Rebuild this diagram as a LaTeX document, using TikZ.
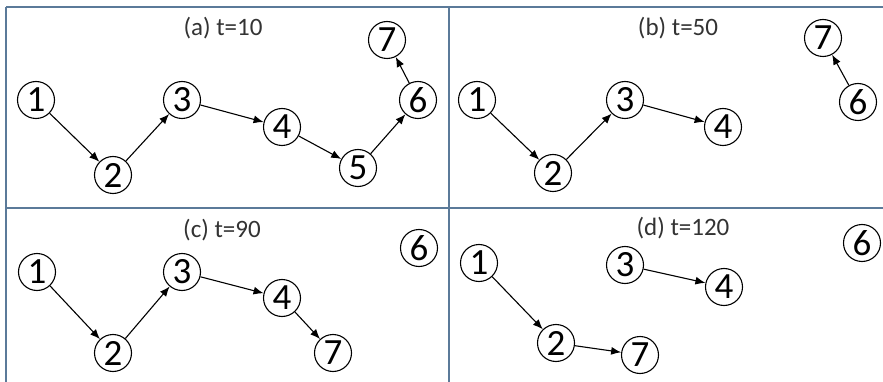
\documentclass[tikz,border=0pt]{standalone}
\usepackage{fontspec}
\setmainfont{Carlito}
\usetikzlibrary{positioning,arrows.meta}
\definecolor{gridblue}{HTML}{5B7A99}
\definecolor{titlegray}{HTML}{333333}

\begin{document}
\begin{tikzpicture}[
  x=1pt, y=-1pt,
  vtx/.style={circle, draw=black, line width=1.1pt, minimum size=37pt,
              inner sep=0pt, font=\fontsize{37}{37}\selectfont},
  caption/.style={text=titlegray, font=\fontsize{25}{25}\selectfont},
  link/.style={line width=1.1pt, -{Latex[length=10pt,width=8pt]}},
  frame/.style={gridblue, line width=1.8pt},
]
\useasboundingbox (0,0) rectangle (883,382);
\fill[white] (0,0) rectangle (883,382);

% panel frame
\coordinate (tl) at (6,7);
\coordinate (tr) at (883,7);
\coordinate (bl) at (6,382);
\coordinate (mt) at (449,7);
\coordinate (mb) at (449,382);
\coordinate (ml) at (6,208);
\coordinate (mr) at (883,208);
\draw[frame] (tl) -- (tr);
\draw[frame] (tl) -- (bl);
\draw[frame] (mt) -- (mb);
\draw[frame] (ml) -- (mr);

% (a) t=10
\node[caption] (capa) at (223,28) {(a) t=10};
\node[vtx] (a1) at (36,100) {1};
\node[vtx] (a2) at (113,175) {2};
\node[vtx] (a3) at (182,100) {3};
\node[vtx] (a4) at (282,127) {4};
\node[vtx] (a5) at (358,168) {5};
\node[vtx] (a6) at (418,100) {6};
\node[vtx] (a7) at (387,40) {7};
\draw[link] (a1) -- (a2);
\draw[link] (a2) -- (a3);
\draw[link] (a3) -- (a4);
\draw[link] (a4) -- (a5);
\draw[link] (a5) -- (a6);
\draw[link] (a6) -- (a7);

% (b) t=50
\node[caption] (capb) at (678,28) {(b) t=50};
\node[vtx] (b1) at (477,100) {1};
\node[vtx] (b2) at (553,173) {2};
\node[vtx] (b3) at (625,100) {3};
\node[vtx] (b4) at (723,127) {4};
\node[vtx] (b6) at (858,102) {6};
\node[vtx] (b7) at (823,38) {7};
\draw[link] (b1) -- (b2);
\draw[link] (b2) -- (b3);
\draw[link] (b3) -- (b4);
\draw[link] (b6) -- (b7);

% (c) t=90
\node[caption] (capc) at (222,230) {(c) t=90};
\node[vtx] (c1) at (37,272) {1};
\node[vtx] (c2) at (113,353) {2};
\node[vtx] (c3) at (182,272) {3};
\node[vtx] (c4) at (282,298) {4};
\node[vtx] (c7) at (333,353) {7};
\node[vtx] (c6) at (419,248) {6};
\draw[link] (c1) -- (c2);
\draw[link] (c2) -- (c3);
\draw[link] (c3) -- (c4);
\draw[link] (c4) -- (c7);

% (d) t=120
\node[caption] (capd) at (683,228) {(d) t=120};
\node[vtx] (d1) at (479,263) {1};
\node[vtx] (d2) at (556,343) {2};
\node[vtx] (d3) at (625,265) {3};
\node[vtx] (d4) at (724,287) {4};
\node[vtx] (d7) at (640,355) {7};
\node[vtx] (d6) at (862,243) {6};
\draw[link] (d1) -- (d2);
\draw[link] (d2) -- (d7);
\draw[link] (d3) -- (d4);

\end{tikzpicture}
\end{document}
